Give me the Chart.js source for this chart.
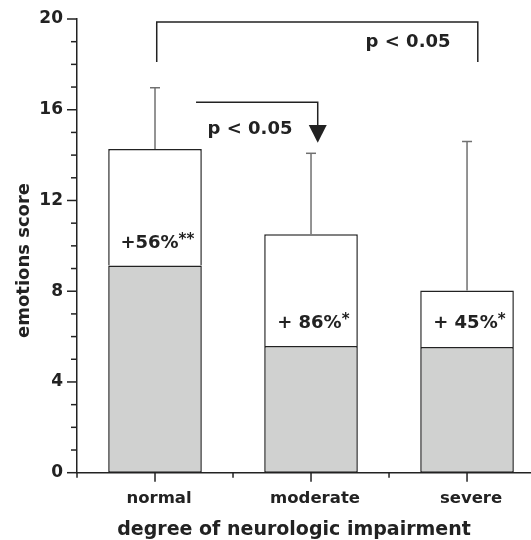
<!DOCTYPE html>
<html><head><meta charset="utf-8">
<script src="https://cdn.jsdelivr.net/npm/chart.js@4"></script>
<style>html,body{margin:0;padding:0;background:#fff}#wrap{width:531px;height:540px;position:relative}</style>
</head><body><div id="wrap"><canvas id="c" width="531" height="540"></canvas></div>
<script>
// ---- data ----
const categories = ['normal', 'moderate', 'severe'];
const baseScores = [9.13, 5.59, 5.54];          // grey part of each bar
const increaseScores = [5.14, 4.92, 2.49];      // white part stacked on top
const errorTops = [16.97, 14.08, 14.6];         // upper end of the error bars
const increaseLabels = ['+56%', '+ 86%', '+ 45%'];
const increaseStars = ['**', '*', '*'];
const yTickValues = [0, 4, 8, 12, 16, 20];
const pLabel = 'p < 0.05';
const yTitle = 'emotions score';
const xTitle = 'degree of neurologic impairment';

const FONT = 'DejaVu Sans';
const INK = '#222';

// annotation placement (in data units of the chart's scales)
const annotCfg = {
  topBracket: { x0: 0.011, x1: 2.069, yLow: 18.1, yTop: 19.87, textX: 1.622, textY: 18.76 },
  arrow: { x0: 0.263, x1: 1.043, yLine: 16.33, yHead: 15.33, yTip: 14.55, textX: 0.609, textY: 14.92 },
  barLabelY: [9.89, 6.37, 6.37],
  barLabelShift: 0.015
};

const annotPlugin = {
  id: 'annot',
  afterDraw(chart) {
    const ctx = chart.ctx, xs = chart.scales.x, ys = chart.scales.y, area = chart.chartArea;
    const X = v => xs.getPixelForValue(v), Y = v => ys.getPixelForValue(v);
    const line = (pts) => { ctx.beginPath(); pts.forEach((p, i) => i ? ctx.lineTo(p[0], p[1]) : ctx.moveTo(p[0], p[1])); ctx.stroke(); };
    ctx.save();
    ctx.strokeStyle = INK; ctx.fillStyle = INK; ctx.lineWidth = 1.5; ctx.lineCap = 'butt';
    // y tick marks (major every 4, minor every 1)
    for (let v = ys.min; v <= ys.max; v++) {
      const py = Y(v), len = (v % 4 === 0) ? 10 : 6;
      line([[area.left - len, py], [area.left, py]]);
    }
    // x tick marks (major at categories, minor between)
    for (let v = -0.5; v <= xs.max; v += 0.5) {
      const px = X(v), len = Number.isInteger(v) ? 9 : 5;
      line([[px, area.bottom], [px, area.bottom + len]]);
    }
    // error bars
    ctx.strokeStyle = '#707070'; ctx.lineWidth = 1.5;
    categories.forEach((c, i) => {
      const px = X(i), top = Y(baseScores[i] + increaseScores[i]), e = Y(errorTops[i]);
      line([[px, top], [px, e]]);
      line([[px - 5, e], [px + 5, e]]);
    });
    // top bracket
    ctx.strokeStyle = INK; ctx.lineWidth = 1.5;
    const b = annotCfg.topBracket;
    line([[X(b.x0), Y(b.yLow)], [X(b.x0), Y(b.yTop)], [X(b.x1), Y(b.yTop)], [X(b.x1), Y(b.yLow)]]);
    // arrow
    const a = annotCfg.arrow;
    line([[X(a.x0), Y(a.yLine)], [X(a.x1), Y(a.yLine)], [X(a.x1), Y(a.yHead)]]);
    ctx.beginPath();
    ctx.moveTo(X(a.x1) - 9, Y(a.yHead)); ctx.lineTo(X(a.x1) + 9, Y(a.yHead)); ctx.lineTo(X(a.x1), Y(a.yTip)); ctx.closePath(); ctx.fill();
    // p labels
    ctx.font = 'bold 18px "' + FONT + '"';
    ctx.textAlign = 'center'; ctx.textBaseline = 'alphabetic';
    ctx.fillText(pLabel, X(b.textX), Y(b.textY));
    ctx.fillText(pLabel, X(a.textX), Y(a.textY));
    // bar labels
    categories.forEach((c, i) => {
      ctx.font = 'bold 18px "' + FONT + '"';
      const w1 = ctx.measureText(increaseLabels[i]).width;
      ctx.font = 'bold 15px "' + FONT + '"';
      const w2 = ctx.measureText(increaseStars[i]).width;
      const start = X(i + annotCfg.barLabelShift) - (w1 + w2) / 2, by = Y(annotCfg.barLabelY[i]);
      ctx.textAlign = 'left';
      ctx.font = 'bold 18px "' + FONT + '"';
      ctx.fillText(increaseLabels[i], start, by);
      ctx.font = 'bold 15px "' + FONT + '"';
      ctx.fillText(increaseStars[i], start + w1, by - 4);
    });
    // axis titles
    ctx.font = 'bold 19px "' + FONT + '"';
    ctx.textAlign = 'center'; ctx.textBaseline = 'alphabetic';
    ctx.fillText(xTitle, 294, 535);
    ctx.font = 'bold 18px "' + FONT + '"';
    ctx.translate(29, 260.5); ctx.rotate(-Math.PI / 2);
    ctx.fillText(yTitle, 0, 0);
    ctx.restore();
  }
};

Chart.defaults.font.family = FONT;
Chart.defaults.font.weight = 'bold';
Chart.defaults.color = INK;

new Chart(document.getElementById('c'), {
  type: 'bar',
  data: {
    datasets: [
      { label: 'baseline', data: baseScores.map((v, i) => ({ x: i, y: v })), backgroundColor: '#d0d1d0', borderColor: INK, borderWidth: 1.5, borderSkipped: false },
      { label: 'increase', data: increaseScores.map((v, i) => ({ x: i, y: v })), backgroundColor: '#ffffff', borderColor: INK, borderWidth: 1.5, borderSkipped: 'start' }
    ]
  },
  options: {
    responsive: false,
    animation: false,
    devicePixelRatio: 1,
    barPercentage: 0.6,
    categoryPercentage: 1,
    layout: { padding: { top: 19, left: 0, right: 0, bottom: 0 } },
    plugins: { legend: { display: false }, tooltip: { enabled: false } },
    scales: {
      x: {
        type: 'linear', stacked: true, min: -0.5, max: 2.41, offset: false, bounds: 'ticks',
        afterBuildTicks: s => { s.ticks = categories.map((c, i) => ({ value: i })); },
        afterDataLimits: s => { s.min = -0.5; s.max = 2.41; },
        afterFit: s => { s.height = 67.3; s.paddingLeft = 0; s.paddingRight = 0; },
        ticks: { callback: v => categories[v] ?? '', font: { size: 16.5, weight: 'bold' }, padding: 16, labelOffset: 4, color: INK, maxRotation: 0, autoSkip: false },
        grid: { display: false, drawTicks: false, offset: false },
        border: { display: true, color: INK, width: 1.5 }
      },
      y: {
        stacked: true, min: 0, max: 20,
        afterBuildTicks: s => { s.ticks = yTickValues.map(v => ({ value: v })); },
        afterFit: s => { s.width = 77; s.paddingTop = 0; s.paddingBottom = 0; },
        ticks: { font: { size: 17, weight: 'bold' }, padding: 14, color: INK },
        grid: { display: false, drawTicks: false },
        border: { display: true, color: INK, width: 1.5 }
      }
    }
  },
  plugins: [annotPlugin]
});
</script>
</body></html>
